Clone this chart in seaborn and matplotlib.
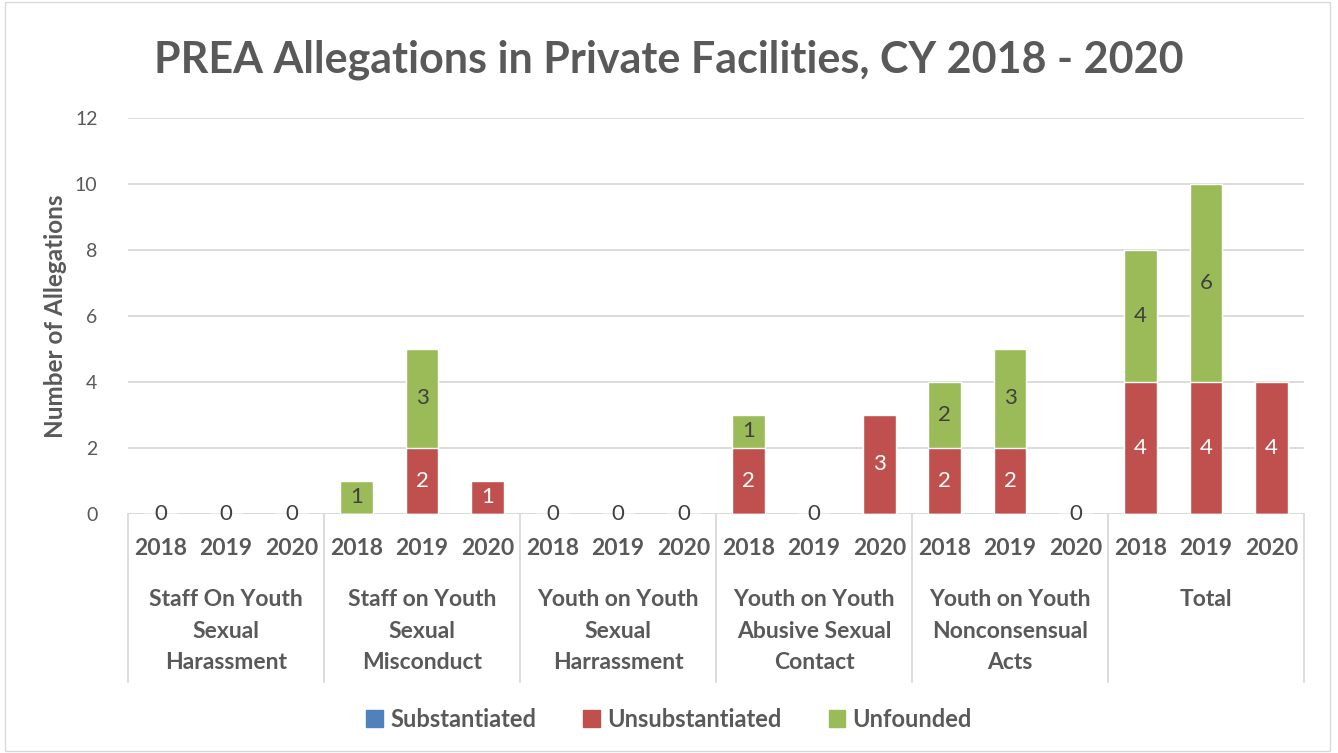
import pandas as pd
import numpy as np
from matplotlib import pyplot as plt
import seaborn as sns

# Данные
groups = ['Staff On Youth\nSexual\nHarassment', 'Staff on Youth\nSexual\nMisconduct',
          'Youth on Youth\nSexual\nHarrassment', 'Youth on Youth\nAbusive Sexual\nContact',
          'Youth on Youth\nNonconsensual\nActs', 'Total']
years = ['2018', '2019', '2020']
substantiated = [0, 0, 0, 0, 0, 0, 0, 0, 0, 0, 0, 0, 0, 0, 0, 0, 0, 0]
unsubstantiated = [0, 0, 0, 0, 2, 1, 0, 0, 0, 2, 0, 3, 2, 2, 0, 4, 4, 4]
unfounded = [0, 0, 0, 1, 3, 0, 0, 0, 0, 1, 0, 0, 2, 3, 0, 4, 6, 0]

c_sub, c_uns, c_unf = '#4F81BD', '#C0504D', '#9BBB59'
grey = '#595959'

sns.set_style('white')
plt.rcParams['font.family'] = ['Lato', 'DejaVu Sans']

n = len(unsubstantiated)
ids = [str(i) for i in range(n)]
df = pd.DataFrame({'id': ids,
                   'sub': substantiated,
                   'uns': unsubstantiated,
                   'unf': unfounded})
df['top'] = df['sub'] + df['uns'] + df['unf']
df['mid'] = df['sub'] + df['uns']

fig = plt.figure(figsize=(13.38, 7.53), dpi=100)
ax = fig.add_axes([0.0957, 0.3174, 0.8789, 0.5259])

# Накопленные столбцы: сначала полная высота, затем поверх нижние слои
sns.barplot(data=df, x='id', y='top', order=ids, color=c_unf, width=0.5,
            saturation=1, ax=ax, zorder=3)
sns.barplot(data=df, x='id', y='mid', order=ids, color=c_uns, width=0.5,
            saturation=1, ax=ax, zorder=3)
sns.barplot(data=df, x='id', y='sub', order=ids, color=c_sub, width=0.5,
            saturation=1, ax=ax, zorder=3)

ax.set_ylim(0, 12)
ax.set_xlim(-0.5, n - 0.5)
ax.set_yticks(range(0, 13, 2))
ax.yaxis.grid(True, color='#D9D9D9', linewidth=1.3, zorder=0)
ax.set_axisbelow(True)
for s in ax.spines.values():
    s.set_visible(False)
ax.axhline(0, color='#D9D9D9', linewidth=1.3, zorder=2)

ax.set_xticks(range(n))
ax.set_xticklabels(years * len(groups), fontsize=16.5, fontweight='bold', color=grey)
ax.tick_params(axis='x', length=0, pad=17)
ax.tick_params(axis='y', length=0, pad=22, labelsize=14, labelcolor=grey)
ax.set_xlabel('')
ax.set_ylabel('Number of Allegations', fontsize=17.5, fontweight='bold', color=grey, labelpad=6)

# Подписи значений
for i in range(n):
    u, f, t = unsubstantiated[i], unfounded[i], df['top'][i]
    if t == 0:
        ax.text(i, 0, '0', ha='center', va='center', fontsize=16, color='#404040', zorder=5)
    if u > 0:
        ax.text(i, substantiated[i] + u / 2, str(u), ha='center', va='center',
                fontsize=16, color='white', zorder=5)
    if f > 0:
        ax.text(i, df['mid'][i] + f / 2, str(f), ha='center', va='center',
                fontsize=16, color='#404040', zorder=5)

# Группы категорий и разделители
trans = ax.get_xaxis_transform()
for k in range(len(groups) + 1):
    ax.plot([k * 3 - 0.5] * 2, [0, -0.424], transform=trans, color='#D9D9D9',
            linewidth=1.3, clip_on=False)
for k, g in enumerate(groups):
    ax.text(k * 3 + 1, -0.19, g, transform=trans, ha='center', va='top',
            fontsize=16.5, fontweight='bold', color=grey, linespacing=1.62)

fig.suptitle('PREA Allegations in Private Facilities, CY 2018 - 2020', x=0.5, y=0.948,
             fontsize=31, fontweight='bold', color=grey)

handles = [plt.Rectangle((0, 0), 1, 1, color=c) for c in (c_sub, c_uns, c_unf)]
fig.legend(handles, ['Substantiated', 'Unsubstantiated', 'Unfounded'], loc='center',
           bbox_to_anchor=(0.5, 0.045), ncol=3, frameon=False, handlelength=0.7,
           handleheight=0.7, handletextpad=0.3, columnspacing=2.0,
           prop={'size': 17, 'weight': 'bold'}, labelcolor=grey)

fig.patches.append(plt.Rectangle((0.004, 0.002), 0.99, 0.996, transform=fig.transFigure,
                                 fill=False, edgecolor='#D9D9D9', linewidth=1))

fig.savefig('out.png', dpi=100)
